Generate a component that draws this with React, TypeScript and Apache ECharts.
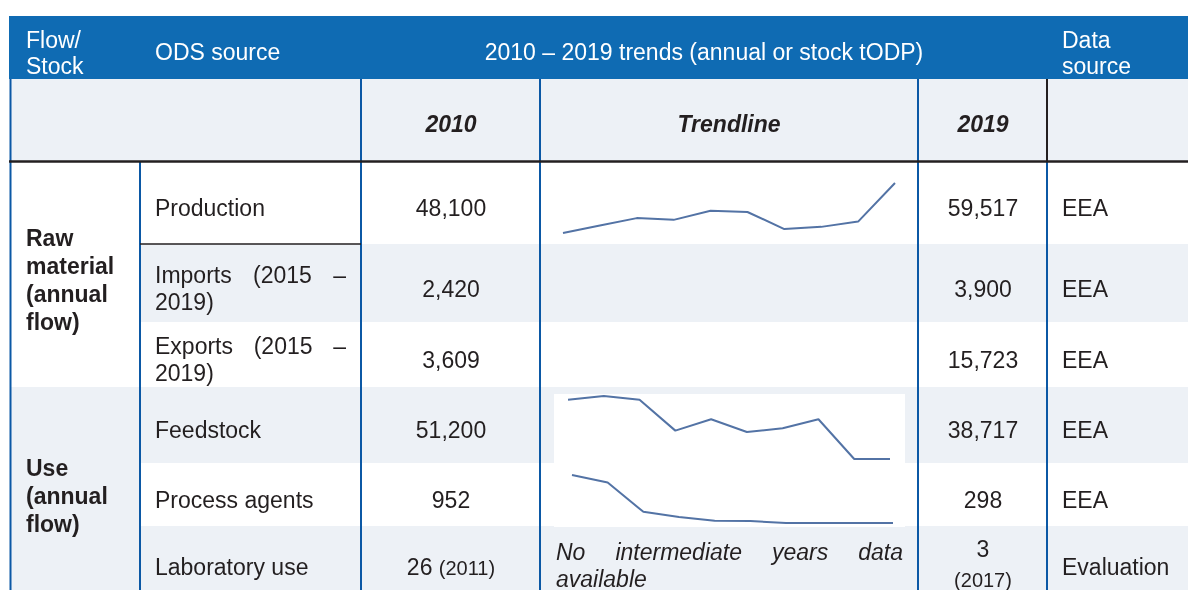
import React, { useEffect, useRef } from "react";
import * as echarts from "echarts";

// ---------- data ----------
const years = ["2010", "2011", "2012", "2013", "2014", "2015", "2016", "2017", "2018", "2019"];
const productionTrend = [48100, 49800, 51500, 51100, 53200, 52900, 49000, 49500, 50700, 59517];
const feedstockTrend = [51200, 52000, 51200, 44700, 47100, 44400, 45200, 47100, 38717, 38717];
const processAgentTrend = [952, 850, 450, 380, 330, 325, 298, 298, 298, 298];

const headerLabels = ["Flow/\nStock", "ODS source", "2010 – 2019 trends (annual or stock tODP)", "Data\nsource"];
const subHeaderLabels = ["2010", "Trendline", "2019"];
const groupLabels = ["Raw\nmaterial\n(annual\nflow)", "Use\n(annual\nflow)"];
const sourceLabels = ["Production", "Imports (2015 – 2019)", "Exports (2015 – 2019)", "Feedstock", "Process agents", "Laboratory use"];
const values2010 = ["48,100", "2,420", "3,609", "51,200", "952", "26"];
const notes2010 = ["", "", "", "", "", "(2011)"];
const values2019 = ["59,517", "3,900", "15,723", "38,717", "298", "3"];
const notes2019 = ["", "", "", "", "", "(2017)"];
const dataSources = ["EEA", "EEA", "EEA", "EEA", "EEA", "Evaluation"];
const noDataNote = "No intermediate years data available";

// ---------- style ----------
const FONT = '"Liberation Sans", Arial, Helvetica, sans-serif';
const HEADER = "#0F6BB3";
const LIGHT = "#EDF1F6";
const BLUE_LINE = "#0B58A5";
const DARK = "#231F20";
const SPARK = "#5373A5";
const FS = 23;

let measureCtx: CanvasRenderingContext2D | null = null;
function measure(text: string, font: string): number {
  if (!measureCtx) measureCtx = document.createElement("canvas").getContext("2d");
  if (!measureCtx) return text.length * 10;
  measureCtx.font = font;
  return measureCtx.measureText(text).width;
}
function fontStr(size: number, weight = "normal", style = "normal") {
  return `${style} ${weight} ${size}px ${FONT}`;
}

function txt(x: number, y: number, text: string, o: any = {}) {
  const size = o.size ?? FS;
  const font = fontStr(size, o.weight ?? "normal", o.style ?? "normal");
  const align = o.align ?? "left";
  return {
    type: "text",
    x,
    y,
    z: 20,
    silent: true,
    style: {
      text,
      fill: o.fill ?? DARK,
      font,
      lineHeight: o.lineHeight ?? 27,
      align,
      verticalAlign: "middle",
      textAlign: align,
      textVerticalAlign: "middle",
    },
  };
}
function rect(x: number, y: number, w: number, h: number, fill: string, z = 1) {
  return { type: "rect", z, silent: true, shape: { x, y, width: w, height: h }, style: { fill } };
}
function ln(x1: number, y1: number, x2: number, y2: number, stroke: string, lw = 2, z = 10) {
  return { type: "line", z, silent: true, shape: { x1, y1, x2, y2 }, style: { stroke, lineWidth: lw } };
}
function justified(words: string[], left: number, right: number, y: number, o: any = {}) {
  const font = fontStr(o.size ?? FS, o.weight ?? "normal", o.style ?? "normal");
  const widths = words.map((w) => measure(w, font));
  const total = widths.reduce((a, b) => a + b, 0);
  const gap = words.length > 1 ? (right - left - total) / (words.length - 1) : 0;
  const out: any[] = [];
  let x = left;
  words.forEach((w, i) => {
    out.push(txt(x, y, w, o));
    x += widths[i] + gap;
  });
  return out;
}
function valueWithNote(cx: number, y: number, value: string, note: string, stacked: boolean) {
  if (!note) return [txt(cx, y, value, { align: "center" })];
  if (stacked) {
    return [txt(cx, y - 18, value, { align: "center" }), txt(cx, y + 13, note, { align: "center", size: 20 })];
  }
  const wv = measure(value, fontStr(FS));
  const ws = measure(" ", fontStr(FS));
  const wn = measure(note, fontStr(20));
  const start = cx - (wv + ws + wn) / 2;
  return [txt(start, y, value), txt(start + wv + ws, y + 1, note, { size: 20 })];
}

export default function App() {
  const ref = useRef<HTMLDivElement>(null);
  useEffect(() => {
    if (!ref.current) return;
    const chart = echarts.init(ref.current, undefined, { renderer: "svg" });

    const rowTop = [161, 244, 322, 387, 463, 526];
    const rowBottom = [244, 322, 387, 463, 526, 590];
    const rowMid = rowTop.map((t, i) => (t + rowBottom[i]) / 2 + 5);
    rowMid[0] = 208;
    rowMid[1] = 289;
    rowMid[2] = 360;
    rowMid[3] = 430;
    rowMid[4] = 500;
    rowMid[5] = 567;

    const g: any[] = [];
    // backgrounds
    g.push(rect(0, 0, 1188, 590, "#FFFFFF", 0));
    g.push(rect(9, 16, 1179, 63, HEADER));
    g.push(rect(11, 79, 1177, 82, LIGHT));
    g.push(rect(141, 244, 1047, 78, LIGHT));
    g.push(rect(11, 387, 1177, 76, LIGHT));
    g.push(rect(11, 387, 129, 203, LIGHT));
    g.push(rect(141, 526, 1047, 64, LIGHT));
    g.push(rect(554, 394, 351, 69, "#FFFFFF", 2));
    g.push(rect(554, 463, 351, 64, "#FFFFFF", 2));

    // lines
    g.push(ln(10.5, 79, 10.5, 590, BLUE_LINE));
    [361, 540, 918].forEach((x) => g.push(ln(x, 79, x, 161, BLUE_LINE)));
    g.push(ln(1047, 79, 1047, 161, DARK));
    [140, 361, 540, 918, 1047].forEach((x) => g.push(ln(x, 161, x, 590, BLUE_LINE)));
    g.push(ln(9, 161.5, 1188, 161.5, DARK, 2.5, 11));
    g.push(ln(140, 244, 361, 244, DARK, 1.6, 11));

    // header texts
    g.push(txt(26, 53, headerLabels[0], { fill: "#FFFFFF", lineHeight: 26 }));
    g.push(txt(155, 52, headerLabels[1], { fill: "#FFFFFF" }));
    g.push(txt(704, 52, headerLabels[2], { fill: "#FFFFFF", align: "center" }));
    g.push(txt(1062, 53, headerLabels[3], { fill: "#FFFFFF", lineHeight: 26 }));

    // sub header
    g.push(txt(451, 124, subHeaderLabels[0], { align: "center", weight: "bold", style: "italic" }));
    g.push(txt(729, 124, subHeaderLabels[1], { align: "center", weight: "bold", style: "italic" }));
    g.push(txt(983, 124, subHeaderLabels[2], { align: "center", weight: "bold", style: "italic" }));

    // group labels
    g.push(txt(26, 280, groupLabels[0], { weight: "bold", lineHeight: 27.7 }));
    g.push(txt(26, 496, groupLabels[1], { weight: "bold", lineHeight: 27.7 }));

    // rows
    sourceLabels.forEach((label, i) => {
      const y = rowMid[i];
      if (label.includes("(2015")) {
        const base = label.split(" (")[0];
        g.push(...justified([base, "(2015", "–"], 155, 346, y - 14));
        g.push(txt(155, y + 13, "2019)"));
      } else {
        g.push(txt(155, y, label));
      }
      g.push(...valueWithNote(451, y, values2010[i], notes2010[i], false));
      g.push(...valueWithNote(983, y, values2019[i], notes2019[i], true));
      g.push(txt(1062, y, dataSources[i]));
    });

    // no-data note for laboratory use
    const noteWords = noDataNote.split(" ");
    g.push(...justified(noteWords.slice(0, 4), 556, 903, 552, { style: "italic" }));
    g.push(txt(556, 579, noteWords.slice(4).join(" "), { style: "italic" }));

    const sparkGrids = [
      { left: 563, right: 1188 - 895, top: 183, height: 50 },
      { left: 568, right: 1188 - 890, top: 396, height: 63 },
      { left: 572, right: 1188 - 893, top: 475, height: 48 },
    ];
    const sparkData = [productionTrend, feedstockTrend, processAgentTrend];

    chart.setOption({
      animation: false,
      backgroundColor: "transparent",
      graphic: { elements: g },
      grid: sparkGrids.map((gr) => ({ ...gr, containLabel: false, show: false })),
      xAxis: sparkGrids.map((_, i) => ({
        type: "category",
        data: years,
        gridIndex: i,
        boundaryGap: false,
        show: false,
      })),
      yAxis: sparkGrids.map((_, i) => ({
        type: "value",
        gridIndex: i,
        min: "dataMin",
        max: "dataMax",
        show: false,
        splitLine: { show: false },
      })),
      series: sparkData.map((d, i) => ({
        type: "line",
        xAxisIndex: i,
        yAxisIndex: i,
        data: d,
        symbol: "none",
        z: 30,
        lineStyle: { color: SPARK, width: 2 },
        silent: true,
      })),
    });
    return () => chart.dispose();
  }, []);
  return <div ref={ref} style={{ position: "fixed", left: 0, top: 0, width: 1188, height: 590 }} />;
}
